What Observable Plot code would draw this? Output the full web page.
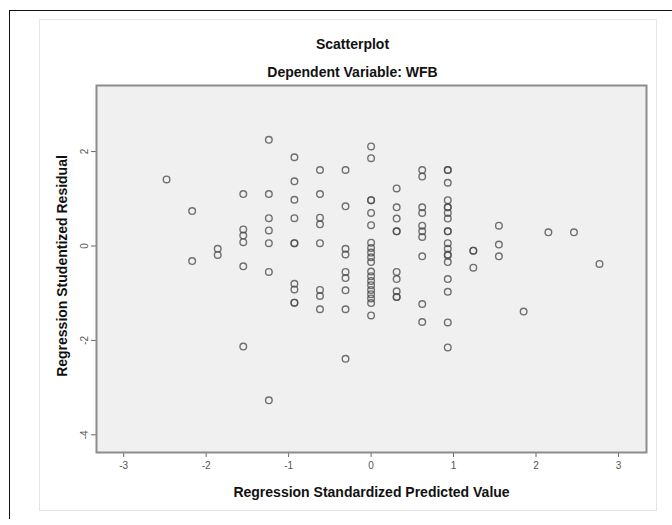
<!DOCTYPE html>
<html>
<head>
<meta charset="utf-8">
<script src="https://cdn.jsdelivr.net/npm/d3@7"></script>
<script src="https://cdn.jsdelivr.net/npm/@observablehq/plot@0.6"></script>
<style>
  html, body { margin: 0; padding: 0; background: #fff; }
  #wrap { position: relative; width: 672px; height: 525px; overflow: hidden; font-family: "Liberation Sans", Arial, sans-serif; }
  #outer { position: absolute; left: 9px; top: 10px; width: 680px; height: 508px; border-top: 1.5px solid #111; border-left: 1.5px solid #111; }
  #panel { position: absolute; left: 39px; top: 19px; width: 616px; height: 490px; border: 1px solid #e6e6e6; }
  #chart { position: absolute; left: 0; top: 0; }
</style>
</head>
<body>
<div id="wrap">
  <div id="outer"></div>
  <div id="panel"></div>
  <div id="chart"></div>
</div>
<script>
const titleText = "Scatterplot";
const subtitleText = "Dependent Variable: WFB";
const xLabel = "Regression Standardized Predicted Value";
const yLabel = "Regression Studentized Residual";
const xTicks = [-3, -2, -1, 0, 1, 2, 3];
const yTicks = [-4, -2, 0, 2];

// predicted value columns and the residuals read at each column
const predictedColumns = [-2.48, -2.17, -1.86, -1.55, -1.24, -0.93, -0.62, -0.31, 0, 0.31, 0.62, 0.93, 1.24, 1.55, 1.85, 2.15, 2.46, 2.77];
const residualsByColumn = [
  [1.41],
  [0.74, -0.32],
  [-0.06, -0.19],
  [1.10, 0.35, 0.22, 0.08, -0.43, -2.13],
  [2.25, 1.10, 0.59, 0.33, 0.06, -0.55, -3.27],
  [1.88, 1.37, 0.98, 0.59, 0.06, 0.06, -0.80, -0.92, -1.20, -1.20],
  [1.61, 1.10, 0.60, 0.46, 0.06, -0.93, -1.06, -1.34],
  [1.61, 0.84, -0.06, -0.18, -0.55, -0.68, -0.94, -1.34, -2.39],
  [2.11, 1.86, 0.97, 0.97, 0.70, 0.44, 0.07, -0.04, -0.14, -0.24, -0.34, -0.54, -0.64, -0.74, -0.83, -0.93, -1.02, -1.11, -1.21, -1.47],
  [1.22, 0.82, 0.58, 0.31, 0.31, -0.55, -0.70, -0.96, -1.08, -1.08],
  [1.61, 1.47, 0.82, 0.70, 0.43, 0.31, 0.19, -0.22, -1.23, -1.61],
  [1.61, 1.61, 1.34, 0.97, 0.82, 0.82, 0.70, 0.58, 0.31, 0.31, 0.06, -0.06, -0.18, -0.20, -0.34, -0.70, -0.97, -1.62, -2.15],
  [-0.10, -0.10, -0.46],
  [0.43, 0.03, -0.22],
  [-1.39],
  [0.29],
  [0.29],
  [-0.38]
];

const points = predictedColumns.flatMap((x, i) => residualsByColumn[i].map(y => ({x, y})));

const chart = Plot.plot({
  width: 672,
  height: 525,
  marginLeft: 96,
  marginRight: 26,
  marginTop: 85,
  marginBottom: 73,
  style: { background: "transparent", fontFamily: "Liberation Sans, Arial, sans-serif", overflow: "visible" },
  x: { domain: [-3.33, 3.34], ticks: xTicks },
  y: { domain: [-4.375, 3.4], ticks: yTicks },
  marks: [
    Plot.frame({ fill: "#f0f0f0", stroke: null }),
    Plot.axisX({ ticks: xTicks, tickSize: 5, tickPadding: 4, fontSize: 10, color: "#555", stroke: "#666", label: null, tickFormat: d => String(d) }),
    Plot.axisY({ ticks: yTicks, tickSize: 5, tickPadding: 4, fontSize: 10, color: "#555", stroke: "#666", label: null, tickRotate: -90, tickFormat: d => String(d) }),
    Plot.dot(points, { x: "x", y: "y", r: 3.3, stroke: "#4a4a4a", strokeWidth: 1.4, strokeOpacity: 0.78, fill: "none" }),
    Plot.frame({ stroke: "#8c8c8c", strokeWidth: 2 }),
    Plot.text([titleText], { text: d => d, frameAnchor: "top", lineAnchor: "middle", dy: -41, dx: -19, fontSize: 14, fontWeight: "bold", fill: "#111" }),
    Plot.text([subtitleText], { text: d => d, frameAnchor: "top", lineAnchor: "middle", dy: -13, dx: -19, fontSize: 14, fontWeight: "bold", fill: "#111" }),
    Plot.text([xLabel], { text: d => d, frameAnchor: "bottom", lineAnchor: "middle", dy: 40, fontSize: 14, fontWeight: "bold", fill: "#111" }),
    Plot.text([yLabel], { text: d => d, frameAnchor: "left", textAnchor: "middle", lineAnchor: "middle", dx: -34, dy: -3, rotate: -90, fontSize: 14, fontWeight: "bold", fill: "#111" })
  ]
});
document.getElementById("chart").appendChild(chart);
</script>
</body>
</html>
